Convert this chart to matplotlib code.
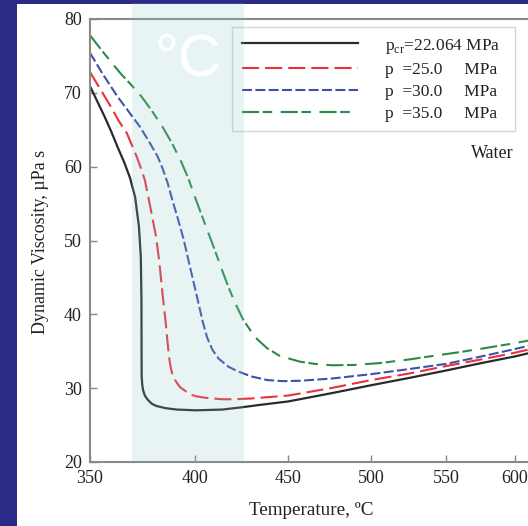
import numpy as np
import matplotlib
matplotlib.use('Agg')
import matplotlib.pyplot as plt
from matplotlib.patches import Rectangle
from matplotlib.ticker import FixedLocator, NullLocator, FuncFormatter

plt.rcParams['font.family'] = ['Liberation Serif', 'DejaVu Serif']
plt.rcParams['mathtext.fontset'] = 'custom'
plt.rcParams['mathtext.rm'] = 'Liberation Serif'

# ---------------- data ----------------
T_cr = [350, 353, 356.5, 359.5, 362.4, 365.5, 368.2, 370.6, 372.4, 373.3, 373.6, 373.65, 373.7,
        374.0, 374.4, 375.2, 376.7, 378.5, 380.6, 385, 390.8, 400.5, 413.8, 424, 433,
        450, 475, 500, 525, 550, 575, 600, 612]
v_cr = [70.9, 69.0, 66.8, 64.8, 62.7, 60.6, 58.5, 55.9, 51.9, 47.8, 41.9, 35.0, 31.6,
        30.4, 29.7, 29.0, 28.4, 27.9, 27.6, 27.3, 27.1, 27.0, 27.1, 27.4, 27.7,
        28.2, 29.3, 30.4, 31.4, 32.4, 33.4, 34.3, 34.8]

T_25 = [350, 355, 359.4, 363, 366.8, 371.3, 373.6, 375.2, 377.5, 379, 380.6, 382.2, 383.7,
        384.5, 385.3, 386.1, 386.9, 387.6, 388.4, 389.5, 390.8, 392.5, 395.6, 398, 400.5,
        405, 413.8, 420, 429.3, 450, 475, 500, 525, 550, 575, 600, 612]
v_25 = [72.8, 70.3, 68.1, 66.2, 64.5, 61.4, 59.6, 58.2, 55.0, 52.8, 50.5, 47.0, 42.8,
        40.8, 38.8, 36.4, 34.3, 33.0, 32.0, 31.3, 30.7, 30.1, 29.5, 29.1, 28.9,
        28.7, 28.5, 28.5, 28.6, 29.0, 30.0, 31.1, 32.0, 33.0, 33.9, 34.8, 35.3]

T_30 = [350, 352.2, 356, 362.4, 367.5, 372.9, 377, 381.3, 383.7, 386.1, 388.4, 391, 394,
        397, 400.5, 403.8, 406, 408.8, 412, 417.2, 422, 429.3, 438.2, 447, 456.5,
        475.5, 500, 525, 550, 575, 600, 612]
v_30 = [75.4, 74.3, 72.4, 69.5, 67.5, 65.4, 63.5, 61.4, 59.8, 57.9, 55.6, 53.2, 50.3,
        46.8, 42.8, 39.0, 36.9, 35.2, 34.0, 32.9, 32.3, 31.6, 31.1, 30.95, 31.0,
        31.3, 31.9, 32.6, 33.3, 34.3, 35.3, 35.8]

T_35 = [350, 355.1, 363.9, 368.4, 373.6, 378.5, 383.7, 388.5, 393.2, 396.5, 400.5, 405, 409.6,
        413.8, 417, 420.6, 425, 429.3, 432.8, 438.2, 445, 456.5, 465, 475.5, 490,
        505.5, 525, 541.9, 560, 580, 600, 612]
v_35 = [77.8, 75.8, 72.6, 71.2, 69.5, 67.6, 65.4, 63.1, 60.5, 58.4, 55.4, 52.2, 49.0,
        46.0, 43.8, 41.6, 39.3, 37.7, 36.6, 35.4, 34.4, 33.6, 33.3, 33.1, 33.15,
        33.4, 33.9, 34.4, 34.9, 35.5, 36.1, 36.5]

pad = "\u00a0\u00a0"
labels = [r"p$_{\mathregular{cr}}$=22.064 MPa" + pad,
          "p  =25.0     MPa" + pad,
          "p  =30.0     MPa" + pad,
          "p  =35.0     MPa" + pad]
x_ticks = [350, 400, 450, 500, 550, 600]
y_ticks = [20, 30, 40, 50, 60, 70, 80]

# ---------------- figure ----------------
W, H = 528, 526
fig = plt.figure(figsize=(W / 100, H / 100), dpi=100)
fig.patch.set_facecolor('#2b2a86')

# white slide area
fig.add_artist(Rectangle((17 / W, 0), 1, (H - 4) / H, transform=fig.transFigure,
                         facecolor='white', edgecolor='none', zorder=-5))

axw = 440.6
ax = fig.add_axes([90 / W, 64 / H, axw / W, 443 / H])
ax.set_xscale('log')
ax.set_xlim(350, 612)
ax.set_ylim(20, 80)

ax.plot(T_cr, v_cr, color='#2a2a2a', lw=1.6, label=labels[0])
ax.plot(T_25, v_25, color='#e8333a', lw=1.5, dashes=(8.2, 2.9), label=labels[1])
ax.plot(T_30, v_30, color='#3f51a9', lw=1.5, dashes=(4.8, 1.6), label=labels[2])
ax.plot(T_35, v_35, color='#2c8a47', lw=1.5, dashes=(8.2, 1.7, 4.6, 4.1), label=labels[3])

ax.xaxis.set_major_locator(FixedLocator(x_ticks))
ax.xaxis.set_minor_locator(NullLocator())
ax.xaxis.set_major_formatter(FuncFormatter(lambda v, p: f"{int(round(v))}"))
ax.yaxis.set_major_locator(FixedLocator(y_ticks))

ax.tick_params(direction='in', length=5, width=1, color='#888888', labelsize=13,
               labelcolor='#222222', pad=6)
for s in ['left', 'bottom', 'top']:
    ax.spines[s].set_color('#8a8a8a')
    ax.spines[s].set_linewidth(1.5)
ax.spines['right'].set_visible(False)

ax.set_ylabel('Dynamic Viscosity, µPa s', fontsize=13, color='#222222')
ax.yaxis.set_label_coords(-0.092, 0.497)
ax.set_xlabel('Temperature, ºC', fontsize=13.8, color='#222222')
ax.xaxis.set_label_coords(0.503, -0.09)

leg = ax.legend(loc='upper left', bbox_to_anchor=(232 / W, 1 - 27 / H),
                bbox_transform=fig.transFigure, fontsize=12.5, handlelength=6.7,
                handletextpad=1.55, borderpad=0.55, labelspacing=0.34,
                frameon=True, fancybox=False, borderaxespad=0)
leg.get_frame().set_edgecolor('#cccccc')
leg.get_frame().set_linewidth(1.0)
for t in leg.get_texts():
    t.set_color('#222222')

fig.text(492 / W, 1 - 153 / H, 'Water', ha='center', va='center', fontsize=13,
         color='#222222')

# highlighted band overlay
fig.add_artist(Rectangle((132 / W, 64 / H), 111.7 / W, (462 - 3) / H,
                         transform=fig.transFigure, facecolor=(140 / 255, 200 / 255, 200 / 255),
                         alpha=0.2, edgecolor='none', zorder=5))
fig.text(188 / W, 1 - 75 / H, '°C', color='white', fontsize=43, family='Liberation Sans',
         ha='center', va='baseline', zorder=6)

fig.savefig('out.png', dpi=100, facecolor=fig.get_facecolor())
